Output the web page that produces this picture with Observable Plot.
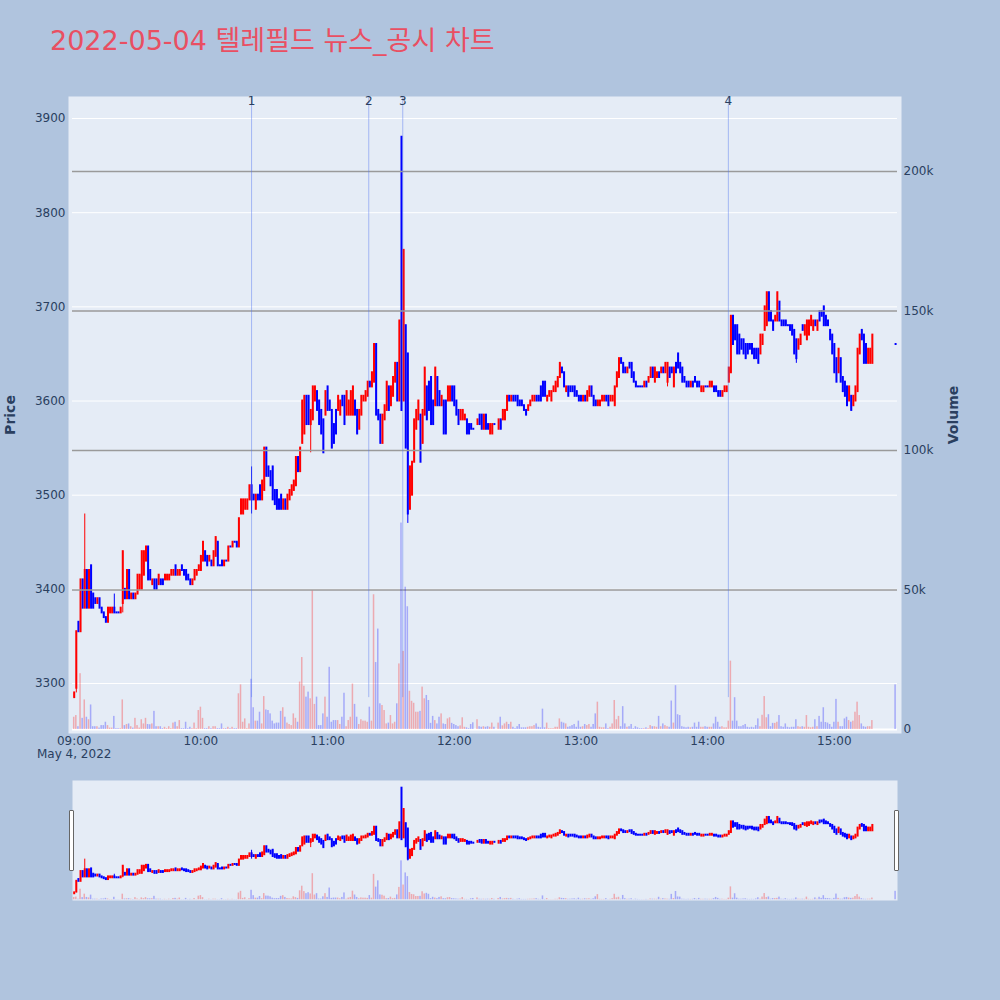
<!DOCTYPE html>
<html>
<head>
<meta charset="utf-8">
<script src="https://cdn.jsdelivr.net/npm/d3@7"></script>
<script src="https://cdn.jsdelivr.net/npm/@observablehq/plot@0.6"></script>
<style>
  html, body { margin: 0; padding: 0; background: #B0C4DE; }
  #wrap { position: relative; width: 1000px; height: 1000px; overflow: hidden; background: #B0C4DE;
          font-family: "DejaVu Sans", "Noto Sans CJK KR", sans-serif; }
  #wrap svg { position: absolute; left: 0; }
  #title { position: absolute; left: 50px; top: 25px; font-size: 27px; line-height: 32px; color: #e94f62; white-space: nowrap; }
  .handle { position: absolute; top: 810px; width: 3px; height: 59px; background: #fff; border: 1px solid #666; border-radius: 1px; }
</style>
</head>
<body>
<div id="wrap"><div id="title">2022-05-04 텔레필드 뉴스_공시 차트</div></div>
<script>
// ---------- DATA (index = minutes after 09:00; null = no trade) ----------
const opens = [
3285,3295,3365,3355,3410,3380,3420,3380,3425,3395,
3390,3385,3390,3380,3375,3370,3365,3375,3375,3380,
3375,3375,3375,3385,3400,3390,3420,3390,3395,3390,
3395,3400,3400,3415,3430,3445,3420,3405,3410,3410,
3405,3410,3410,3410,3410,3410,3415,3415,3425,3415,
3415,3425,3420,3420,3415,3410,3405,3410,3415,3420,
3420,3430,3440,3435,3430,3430,3425,3435,3450,3425,
3430,3425,3430,3430,3445,3445,3450,3450,3445,3480,
3480,3485,3485,3495,3510,3500,3485,3500,3510,3495,
3505,3550,3530,3525,3530,3505,3505,3495,3500,3485,
3495,3485,3495,3500,3505,3510,3540,3525,3555,3565,
3605,3605,3575,3580,3600,3610,3600,3590,3580,3585,
3615,3600,3590,3575,3590,3590,3585,3605,3605,3585,
3585,3585,3585,3600,3590,3570,3585,3600,3600,3605,
3620,3615,3620,3660,3590,3585,3555,3580,3590,3615,
3595,3605,3620,3640,3600,3880,3600,3680,3650,3485,
3500,3535,3570,3580,3585,3555,3585,3615,3620,3625,
3600,3595,3625,3610,3595,3600,3600,3600,3600,3615,
3615,3600,3590,3580,3580,3580,3580,3575,3575,3570,
null,3575,3585,3585,3570,3585,3575,3565,3565,3575,
null,3570,3580,3580,3580,3590,3605,3600,3605,3605,
3605,3600,3600,3595,3590,3590,3595,3600,3600,3605,
3605,3615,3620,3620,3600,3605,3600,3610,3610,3615,
3625,3635,3630,3610,3615,3615,3615,3615,3610,3605,
3605,3600,3605,3600,3605,3615,3605,3600,3595,3595,
3600,3600,3605,3605,3600,3600,3595,3615,3625,3645,
3640,3635,3630,3640,3640,3630,3620,3615,3615,3615,
3615,3620,3620,3625,3635,3620,3625,3630,3630,3635,
3630,3620,3635,3635,3615,3640,3650,3640,3635,3625,
3620,3620,3615,3620,3625,3620,3620,3610,3610,3615,
3615,3615,3615,3615,3615,3610,3610,3605,3610,3610,
3620,3630,3690,3680,3680,3670,3665,3665,3660,3660,
3660,3660,3655,3655,3655,3650,3660,3675,3680,3715,
3695,3685,3685,3685,3705,3685,3685,3685,3680,3680,
3680,3675,3665,3655,3660,3680,3670,3665,3670,3680,
3675,3685,3675,3695,3695,3700,3690,3685,3675,3670,
3660,3645,3630,3645,3625,3620,3615,3600,3605,3595,
3600,3610,3650,3675,3670,3660,3640,3640,3640,null,
null,null,null,null,null,null,null,null,null,3660];
const closes = [
3290,3355,3355,3410,3380,3420,3380,3420,3380,3380,
3385,3390,3380,3375,3370,3365,3380,3380,3380,3375,
3375,3375,3380,3440,3390,3420,3390,3395,3390,3395,
3415,3415,3440,3440,3445,3410,3410,3410,3400,3400,
3415,3405,3405,3415,3415,3415,3420,3420,3415,3420,
3420,3420,3415,3410,3410,3405,3410,3420,3420,3425,
3435,3450,3430,3425,3435,3425,3440,3455,3425,3425,
3425,3430,3430,3445,3445,3450,3450,3445,3475,3495,
3495,3495,3495,3510,3495,3495,3500,3495,3495,3515,
3550,3520,3520,3510,3495,3490,3485,3485,3485,3495,
3485,3500,3505,3510,3515,3540,3525,3550,3600,3605,
3575,3575,3590,3615,3615,3590,3575,3565,3545,3610,
3590,3590,3550,3555,3565,3605,3600,3595,3575,3610,
3600,3610,3615,3585,3565,3590,3605,3605,3610,3620,
3615,3630,3660,3585,3580,3555,3585,3595,3620,3590,
3615,3625,3640,3600,3685,3590,3760,3550,3480,3530,
3535,3580,3590,3600,3535,3590,3635,3580,3590,3575,
3575,3635,3595,3595,3605,3565,3565,3615,3615,3600,
3595,3585,3575,3590,3590,3585,3565,3565,3570,3570,
null,3580,3575,3570,3585,3570,3570,3575,3575,3575,
null,3580,3570,3590,3590,3605,3600,3605,3600,3600,
3595,3595,3595,3590,3585,3595,3600,3605,3605,3600,
3600,3600,3605,3605,3605,3610,3610,3615,3620,3625,
3640,3630,3615,3615,3605,3610,3610,3605,3605,3600,
3600,3605,3600,3610,3615,3605,3595,3595,3600,3600,
3605,3605,3600,3595,3605,3605,3615,3630,3645,3640,
3630,3630,3635,3635,3625,3620,3615,3615,3615,3615,
3620,3615,3625,3635,3625,3635,3630,3625,3635,3630,
3640,3640,3625,3630,3635,3630,3635,3630,3620,3620,
3615,3615,3620,3615,3620,3615,3615,3615,3615,3615,
3615,3620,3620,3610,3610,3605,3605,3610,3615,3615,
3635,3690,3660,3665,3650,3650,3655,3650,3645,3650,
3655,3650,3645,3645,3640,3670,3670,3700,3715,3685,
3685,3675,3690,3715,3685,3680,3680,3680,3680,3675,
3670,3650,3645,3665,3670,3675,3680,3685,3685,3690,
3685,3680,3685,3685,3690,3680,3680,3680,3665,3650,
3630,3620,3655,3620,3610,3605,3595,3615,3590,3605,
3615,3655,3670,3665,3640,3640,3655,3655,3670,null,
null,null,null,null,null,null,null,null,null,3660];
const highs = [
3290,3355,3365,3410,3410,3480,3420,3420,3425,3395,
3390,3390,3390,3380,3375,3370,3380,3380,3380,3395,
3375,3375,3380,3440,3400,3420,3420,3395,3395,3395,
3415,3415,3440,3440,3445,3445,3420,3410,3410,3410,
3415,3410,3410,3415,3415,3415,3420,3420,3425,3420,
3420,3425,3420,3420,3415,3410,3410,3420,3420,3425,
3435,3450,3440,3435,3435,3430,3440,3455,3450,3425,
3430,3430,3430,3445,3445,3450,3450,3450,3475,3495,
3495,3495,3495,3510,3530,3500,3500,3500,3510,3515,
3550,3550,3530,3525,3530,3505,3505,3495,3500,3495,
3495,3500,3505,3510,3515,3540,3540,3550,3600,3605,
3605,3605,3590,3615,3615,3610,3600,3590,3580,3610,
3615,3600,3590,3575,3590,3605,3600,3605,3605,3610,
3600,3610,3615,3600,3590,3590,3605,3605,3610,3620,
3620,3630,3660,3660,3590,3585,3585,3595,3620,3615,
3615,3625,3640,3640,3685,3880,3760,3680,3650,3530,
3535,3580,3590,3600,3585,3590,3635,3615,3620,3625,
3600,3635,3625,3610,3605,3600,3600,3615,3615,3615,
3615,3600,3590,3590,3590,3585,3580,3575,3575,3570,
null,3580,3585,3585,3585,3585,3575,3575,3575,3575,
null,3580,3580,3590,3590,3605,3605,3605,3605,3605,
3605,3600,3600,3595,3590,3595,3600,3605,3605,3605,
3605,3615,3620,3620,3605,3610,3610,3615,3620,3625,
3640,3635,3630,3615,3615,3615,3615,3615,3610,3605,
3605,3605,3605,3610,3615,3615,3605,3600,3600,3600,
3605,3605,3605,3605,3605,3605,3615,3630,3645,3645,
3640,3635,3635,3640,3640,3630,3620,3615,3615,3615,
3620,3620,3625,3635,3635,3635,3630,3630,3635,3635,
3640,3640,3635,3635,3635,3640,3650,3640,3635,3625,
3620,3620,3620,3620,3625,3620,3620,3615,3615,3615,
3615,3620,3620,3615,3615,3610,3610,3610,3615,3615,
3635,3690,3690,3680,3680,3670,3665,3665,3660,3660,
3660,3660,3655,3655,3655,3670,3670,3700,3715,3715,
3695,3685,3690,3715,3705,3685,3685,3685,3680,3680,
3680,3675,3665,3665,3670,3680,3680,3685,3685,3690,
3685,3685,3685,3695,3695,3700,3690,3685,3675,3670,
3660,3645,3655,3645,3625,3620,3615,3615,3605,3605,
3615,3655,3670,3675,3670,3660,3655,3655,3670,null,
null,null,null,null,null,null,null,null,null,3660];
const lows = [
3285,3290,3355,3355,3380,3380,3380,3380,3380,3380,
3385,3385,3380,3375,3370,3365,3365,3375,3375,3375,
3375,3375,3375,3375,3390,3390,3390,3390,3390,3390,
3395,3400,3400,3415,3430,3410,3410,3405,3400,3400,
3405,3405,3405,3410,3410,3410,3415,3415,3415,3415,
3415,3420,3415,3410,3410,3405,3405,3410,3415,3420,
3420,3430,3430,3425,3430,3425,3425,3435,3425,3425,
3425,3425,3430,3430,3445,3445,3450,3445,3445,3480,
3480,3485,3485,3495,3480,3495,3485,3495,3495,3495,
3505,3520,3520,3510,3495,3490,3485,3485,3485,3485,
3485,3485,3495,3500,3505,3510,3525,3525,3555,3565,
3575,3575,3545,3580,3600,3590,3575,3565,3545,3585,
3590,3590,3550,3555,3565,3590,3585,3595,3575,3585,
3585,3585,3585,3585,3565,3570,3585,3600,3600,3605,
3615,3615,3620,3585,3580,3555,3555,3580,3590,3590,
3595,3605,3620,3600,3600,3590,3600,3550,3470,3485,
3500,3535,3570,3580,3535,3555,3585,3580,3590,3575,
3575,3595,3595,3595,3595,3565,3565,3600,3600,3600,
3595,3585,3575,3580,3580,3580,3565,3565,3570,3570,
null,3575,3575,3570,3570,3570,3570,3565,3565,3575,
null,3570,3570,3580,3580,3590,3600,3600,3600,3600,
3595,3595,3595,3590,3585,3590,3595,3600,3600,3600,
3600,3600,3605,3605,3600,3605,3600,3610,3610,3615,
3625,3630,3615,3610,3605,3610,3610,3605,3605,3600,
3600,3600,3600,3600,3605,3605,3595,3595,3595,3595,
3600,3600,3600,3595,3600,3600,3595,3615,3625,3640,
3630,3630,3630,3635,3625,3620,3615,3615,3615,3615,
3615,3615,3620,3625,3625,3620,3625,3625,3630,3630,
3630,3615,3625,3630,3615,3630,3635,3630,3620,3620,
3615,3615,3615,3615,3620,3615,3615,3610,3610,3615,
3615,3615,3615,3610,3610,3605,3605,3605,3610,3610,
3620,3630,3660,3665,3650,3650,3655,3650,3645,3650,
3655,3650,3645,3645,3640,3650,3660,3675,3680,3685,
3685,3675,3685,3685,3685,3680,3680,3680,3680,3675,
3670,3650,3640,3655,3660,3675,3670,3665,3670,3680,
3675,3680,3675,3685,3690,3680,3680,3680,3665,3650,
3630,3620,3630,3620,3610,3605,3595,3600,3590,3595,
3600,3610,3650,3665,3640,3640,3640,3640,3640,null,
null,null,null,null,null,null,null,null,null,3660];
// volume in thousands of shares
const volumesK = [
4.4,5,1,20,4,10.6,4.4,3.5,8.8,1,
1,1,0.5,1.4,1.4,2.6,1.4,0.5,0.5,4.7,
0.3,0.3,0.3,10.6,1.4,1.8,2,1,0.5,4,
1.4,0.5,3.5,2,4,1.8,1.7,2,6.5,1,
1,1,0.3,0.8,0.3,1,0.3,2.3,2.6,1,
3.2,0.3,0.3,2.6,0.3,0.8,0.3,2.3,0.3,6.8,
8,4,0.3,0.3,1,0.3,1,1,0.3,0.3,
2,0.3,0.3,0.8,0.3,0.8,0.3,0.3,12.8,16,
2.6,3.8,0.3,2,18,7.8,3,3,6.2,2,
11.8,7,6.8,5.6,3,2,2.3,2.3,6.5,7.8,
4.4,2.3,1.8,1.4,5.6,4,2.6,17,25.8,15.5,
11.6,13.4,11,49.6,9,11.6,1.4,1.4,5.6,11.6,
4.4,22.3,2.6,3.2,3.2,3.2,1.8,4.4,13,1,
3.2,4.4,16.3,9,4.4,1.8,3.5,3,3,2.6,
8,3,48.3,24,36,9.2,8.6,6.8,2,2.3,
5,2,2.6,9.2,23.5,74,28,51,44,13.7,
10.1,9.4,6.2,6.2,6.5,15.2,11,12.2,10.4,2.2,
4.7,3.2,2,4.4,5.6,2,1.8,3.8,4.2,2.2,
1.8,1.4,1,1.3,4.2,0.8,0.6,0.3,1.8,2.4,
null,3.5,1,0.8,1,0.8,1,0.8,2.3,0.8,
null,2.3,4.4,1.3,2,2.6,1.8,2.6,0.8,0.3,
1,1.8,0.6,0.6,0.6,0.8,1,1,1.4,2,
0.8,0.6,7.3,0.6,2.3,0.3,0.3,0.3,0.8,0.8,
3.8,2.6,2.3,2,0.8,1,1.4,1.8,0.8,3,
0.8,1,1.8,1.4,1.8,0.8,1.8,5.6,9.8,0.8,
0.6,0.6,2,0.3,0.8,2,10.4,3.5,4.7,1,
8.2,2,0.8,1,1.8,0.3,1,0.6,0.3,0.3,
0.3,0.6,0.3,1.4,1,1,0.8,4.7,1,2,
1.4,1,0.8,10.2,2.3,15.7,5.3,5,1,0.8,
0.6,0.8,0.6,0.8,2.3,0.8,2.6,0.8,0.8,1,
0.8,0.8,0.8,2,4.4,2.6,0.8,1,0.6,0.6,
3,24.5,3,11.4,3,1,1,1.4,1.8,0.8,
0.6,0.8,0.6,1.4,3.8,1,5.1,11.8,4.2,5.3,
1,2.2,2.2,2.6,5,1,0.8,2,0.8,0.6,
0.8,0.8,3.5,1,0.8,1,0.8,5,0.8,0.6,
0.8,3.5,1,4.7,2.6,7.8,2.5,2.3,1.8,0.8,
2.6,10.8,2.6,1,1,3.8,4.4,3.2,2.6,3,
6.2,9.8,5,2,1,0.8,1,1,3.2,null,
null,null,null,null,null,null,null,null,null,16];

const priceTicks = [3300, 3400, 3500, 3600, 3700, 3800, 3900];
const volumeTicks = [0, 50000, 100000, 150000, 200000];
const hourTicks = ["09:00", "10:00", "11:00", "12:00", "13:00", "14:00", "15:00"];
const newsTimes = ["10:24:00", "11:19:30", "11:35:36", "14:09:48"];
const newsLabels = ["1", "2", "3", "4"];
const dateLabel = "May 4, 2022";
const day = "2022-05-04";

// ---------- BUILD ----------
const toDate = hms => new Date(`${day}T${hms}Z`);
const start = toDate("09:00:00");
const atMinute = m => new Date(+start + m * 60000);
const candles = [];
opens.forEach((o, i) => {
  if (o == null) return;
  candles.push({m: i, time: atMinute(i), open: o, high: highs[i], low: lows[i], close: closes[i], volume: volumesK[i] * 1000});
});
const news = newsTimes.map((s, i) => ({time: toDate(s), label: newsLabels[i]}));
const hourDates = hourTicks.map(h => toDate(h + ":00"));
const dayLow = d3.min(lows);

const RED = "#ff0000", BLUE = "#0000ff";
const color = d => d.close > d.open ? RED : BLUE;
const X = {type: "utc", domain: [atMinute(-2.7), atMinute(391.8)]};
const priceDomain = [3246.9, 3923.4];
const volDomain = [-1435, 226900];
const FONT = '"DejaVu Sans", "Noto Sans CJK KR", sans-serif';
const style = {fontFamily: FONT, fontSize: "12px", color: "#2a3f5f", background: "transparent", overflow: "visible"};
const main = {width: 1000, height: 760, marginLeft: 68, marginRight: 99, marginTop: 96, marginBottom: 27, style};
const mini = {width: 1000, height: 120, marginLeft: 68, marginRight: 99, marginTop: 0, marginBottom: 0, style};

const wrap = document.getElementById("wrap");
function add(svg, top) { svg.style.top = top + "px"; wrap.appendChild(svg); }

// Layer 1: price panel background, price grid, candles, axes
add(Plot.plot({
  ...main,
  x: X,
  y: {domain: priceDomain},
  marks: [
    Plot.frame({fill: "#E5ECF6"}),
    Plot.ruleY(priceTicks, {stroke: "#ffffff", strokeWidth: 1, insetLeft: 4, insetRight: 4}),
    Plot.ruleX(candles, {x: "time", y1: "low", y2: "high", stroke: color, strokeWidth: 1}),
    Plot.ruleX(candles, {x: "time", y1: "open", y2: "close", stroke: color, strokeWidth: 2, strokeLinecap: "square"}),
    Plot.axisY({ticks: priceTicks, anchor: "left", tickSize: 0, tickPadding: 3, tickFormat: d3.format("d"), label: null, fontSize: 12}),
    Plot.axisX({ticks: hourDates, anchor: "bottom", tickSize: 0, tickPadding: 3, tickFormat: d3.utcFormat("%H:%M"), label: null, fontSize: 12}),
    Plot.text([{t: start, s: dateLabel}], {x: "t", text: "s", frameAnchor: "bottom", dy: 24, fontSize: 12, fill: "#2a3f5f"}),
    Plot.text(["Price"], {frameAnchor: "left", dx: -58, rotate: -90, textAnchor: "middle", fontWeight: "bold", fontSize: 14, fill: "#2a3f5f"})
  ]
}), 0);

// Layer 2: volume (right axis)
add(Plot.plot({
  ...main,
  x: {...X, axis: null},
  y: {domain: volDomain},
  marks: [
    Plot.ruleY(volumeTicks.filter(v => v > 0), {stroke: "#9a9a9a", strokeWidth: 1.5, insetLeft: 4, insetRight: 4}),
    Plot.ruleY([0], {stroke: "#ffffff", strokeWidth: 2, insetLeft: 4, insetRight: 4}),
    Plot.rect(candles, {x1: d => atMinute(d.m - 0.36), x2: d => atMinute(d.m + 0.36), y1: () => 0, y2: "volume", fill: color, fillOpacity: 0.28}),
    Plot.axisY({ticks: volumeTicks, anchor: "right", tickSize: 0, tickPadding: 2, tickFormat: d3.format("~s"), label: null, fontSize: 12}),
    Plot.text(["Volume"], {frameAnchor: "right", dx: 52, rotate: -90, textAnchor: "middle", fontWeight: "bold", fontSize: 14, fill: "#2a3f5f"})
  ]
}), 0);

// Layer 3: news markers
add(Plot.plot({
  ...main,
  x: {...X, axis: null},
  y: {domain: priceDomain, axis: null},
  marks: [
    Plot.ruleX(news, {x: "time", y1: dayLow, y2: priceDomain[1], stroke: "#4f73f0", strokeOpacity: 0.45, strokeWidth: 1}),
    Plot.text(news, {x: "time", text: "label", frameAnchor: "top", fontSize: 12, fill: "#2a3f5f"})
  ]
}), 0);

// Range slider preview
add(Plot.plot({
  ...mini,
  x: {...X, axis: null},
  y: {domain: priceDomain, axis: null},
  marks: [
    Plot.frame({fill: "#E5ECF6", insetLeft: 4, insetRight: 4}),
    Plot.ruleX(candles, {x: "time", y1: "low", y2: "high", stroke: color, strokeWidth: 1}),
    Plot.ruleX(candles, {x: "time", y1: "open", y2: "close", stroke: color, strokeWidth: 2, strokeLinecap: "square"})
  ]
}), 780);
add(Plot.plot({
  ...mini,
  x: {...X, axis: null},
  y: {domain: volDomain, axis: null},
  marks: [
    Plot.rect(candles, {x1: d => atMinute(d.m - 0.36), x2: d => atMinute(d.m + 0.36), y1: () => 0, y2: "volume", fill: color, fillOpacity: 0.28})
  ]
}), 780);

for (const left of [69, 894]) {
  const h = document.createElement("div");
  h.className = "handle";
  h.style.left = left + "px";
  wrap.appendChild(h);
}
</script>
</body>
</html>
